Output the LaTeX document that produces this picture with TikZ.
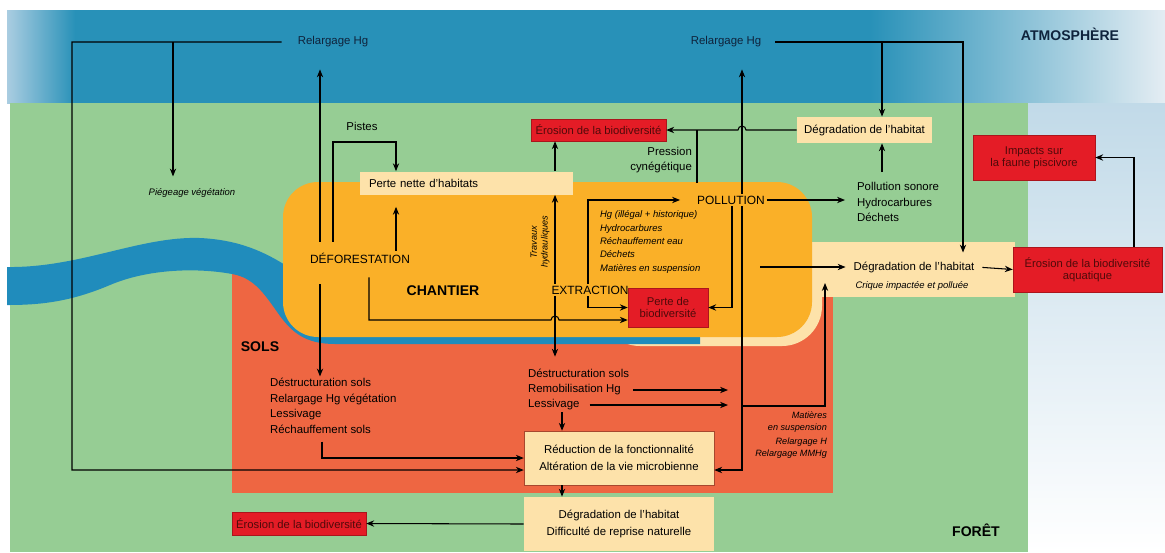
\documentclass[tikz,border=0pt]{standalone}
\usepackage{fontspec}
\setmainfont{Liberation Sans}
\usetikzlibrary{positioning,calc,arrows.meta}
\definecolor{atmoblue}{RGB}{40,145,184}
\definecolor{atmolight}{RGB}{170,205,225}
\definecolor{skylight}{RGB}{228,237,243}
\definecolor{foretgreen}{RGB}{150,205,148}
\definecolor{soilred}{RGB}{238,102,66}
\definecolor{siteorange}{RGB}{250,176,40}
\definecolor{creekcream}{RGB}{253,226,170}
\definecolor{riverblue}{RGB}{32,140,188}
\definecolor{alertred}{RGB}{228,28,38}
\definecolor{alerttext}{RGB}{80,10,10}
\definecolor{navytext}{RGB}{15,35,60}

\begin{document}
\begin{tikzpicture}[x=0.02cm, y=-0.02cm,
    txt/.style={font=\fontsize{6.5}{8.8}\selectfont, inner sep=1pt},
    itxt/.style={font=\fontsize{5.4}{7.6}\selectfont\itshape, inner sep=1pt},
    act/.style={font=\fontsize{6.8}{8}\selectfont, inner sep=1pt},
    head/.style={font=\fontsize{8}{9}\selectfont\bfseries, inner sep=1pt},
    redbox/.style={rectangle, fill=alertred, draw=alertred!75!black, line width=0.3pt, text=alerttext, font=\fontsize{6.4}{6.8}\selectfont, align=center, inner sep=0pt},
    creambox/.style={rectangle, fill=creekcream, font=\fontsize{6.5}{9.4}\selectfont, align=center, inner sep=0pt},
    arr/.style={-{Stealth[length=4.5pt,width=3.6pt]}, line width=0.6pt},
    ln/.style={line width=0.6pt}
]
\useasboundingbox (0,0) rectangle (1165,552);

% Zones
\fill[white] (0,0) rectangle (1165,552);
\fill[atmoblue] (7,10) rectangle (1165,103);
\shade[left color=atmolight, right color=atmoblue] (7,10) rectangle (75,103);
\shade[left color=atmoblue, right color=skylight] (870,10) rectangle (1165,103);
\shade[top color=atmolight!60!skylight, bottom color=white] (1028,103) rectangle (1165,552);
\fill[foretgreen] (10,103) rectangle (1028,552);
\fill[soilred] (232,274) rectangle (833,493);

% Crique
\fill[creekcream, rounded corners=0.8cm] (600,242) rectangle (822,346);
\fill[creekcream] (790,242) rectangle (1015,297);

% Riviere
\fill[riverblue] (7,267) .. controls (80,268) and (140,236) .. (200,238)
    .. controls (240,240) and (265,252) .. (290,268)
    -- (700,300) -- (700,344) -- (335,344)
    .. controls (305,344) and (292,332) .. (280,316)
    .. controls (265,295) and (255,278) .. (232,274)
    .. controls (200,268) and (150,268) .. (110,285)
    .. controls (70,302) and (40,305) .. (7,305) -- cycle;

% Chantier
\fill[siteorange, rounded corners=0.7cm] (283,182) rectangle (812,337);

% Atmosphere
\node[txt, text=navytext] (relL) at (333,42) {Relargage Hg};
\node[txt, text=navytext] (relR) at (726,42) {Relargage Hg};
\node[head, text=navytext] (atmo) at (1070,34) {ATMOSPHÈRE};

% Foret
\node[itxt] (piege) at (192,193) {Piégeage végétation};
\node[txt] (pistes) at (362,126) {Pistes};
\node[creambox, minimum width=4.26cm, minimum height=0.46cm, text width=3.9cm, align=left, inner xsep=0.18cm] (pnette) at (466.5,183) {Perte nette d'habitats};
\node[redbox, minimum width=2.7cm, minimum height=0.44cm] (erosT) at (598.5,130) {Érosion de la biodiversité};
\node[txt, align=right, anchor=east, font=\fontsize{6.5}{8.3}\selectfont] (pression) at (694,160) {Pression\\cynégétique};
\node[creambox, minimum width=2.7cm, minimum height=0.52cm] (degT) at (864.5,130) {Dégradation de l'habitat};
\node[txt, align=left, anchor=west, inner ysep=0.2cm] (pson) at (855,202) {Pollution sonore\\Hydrocarbures\\Déchets};
\node[redbox, minimum width=2.44cm, minimum height=0.9cm] (impacts) at (1034,157.5) {Impacts sur\\la faune piscivore};
\node[head] (foret) at (976,530) {FORÊT};

% Chantier
\node[act] (defo) at (360,258) {DÉFORESTATION};
\node[head] (chantier) at (443,291) {CHANTIER};
\node[itxt, rotate=90, align=center, font=\fontsize{5.2}{6.2}\selectfont\itshape] (travaux) at (540,242) {Travaux\\hydrauliques};
\node[act] (extr) at (590,290) {EXTRACTION};
\node[act] (poll) at (731,200) {POLLUTION};
\node[itxt, align=left, anchor=west] (pollist) at (598,242) {Hg (illégal + historique)\\Hydrocarbures\\Réchauffement eau\\Déchets\\Matières en suspension};
\node[redbox, minimum width=1.6cm, minimum height=0.78cm] (perteb) at (668,307.5) {Perte de\\biodiversité};

% Crique
\node[txt] (degC) at (914,267) {Dégradation de l'habitat};
\node[itxt] (crique) at (912,286) {Crique impactée et polluée};
\node[redbox, minimum width=2.98cm, minimum height=0.9cm] (erosA) at (1087.5,269.5) {Érosion de la biodiversité\\aquatique};

% Sols
\node[head] (sols) at (260,347) {SOLS};
\node[txt, align=left, anchor=west] (solsL) at (268,406) {Déstructuration sols\\Relargage Hg végétation\\Lessivage\\Réchauffement sols};
\node[txt, anchor=west] (dsC) at (526,373) {Déstructuration sols};
\node[txt, anchor=west] (remob) at (526,390) {Remobilisation Hg};
\node[txt, anchor=west] (lessC) at (526,405) {Lessivage};
\node[itxt, align=right, anchor=east, font=\fontsize{5.2}{6.8}\selectfont\itshape] (matieres) at (829,435) {Matières\\en suspension\\[1.5pt]Relargage H\\Relargage MMHg};
\node[creambox, draw=soilred!70!black, line width=0.3pt, minimum width=3.8cm, minimum height=1.08cm] (reduc) at (619,458) {Réduction de la fonctionnalité\\Altération de la vie microbienne};
\node[creambox, minimum width=3.8cm, minimum height=1.08cm] (degB) at (619,524) {Dégradation de l'habitat\\Difficulté de reprise naturelle};
\node[redbox, minimum width=2.68cm, minimum height=0.46cm] (erosB) at (299,523.5) {Érosion de la biodiversité};

% Points
\coordinate (loopL) at (72,470);
\coordinate (brL) at (173,42);
\coordinate (brR) at (882,42);
\coordinate (pistK) at (396,142);
\coordinate (hopA) at (555,320);
\coordinate (hopB) at (742,130);
\coordinate (orTop) at (697,183);
\coordinate (chOut) at (760,267);
\coordinate (brM) at (742,406);
\coordinate (tipM) at (825,283);
\coordinate (xA) at (320,0);
\coordinate (xB) at (333,0);
\coordinate (xC) at (396,0);
\coordinate (xD) at (369,0);
\coordinate (xE) at (555,0);
\coordinate (xF) at (588,0);
\coordinate (xG) at (732,0);
\coordinate (xH) at (742,0);
\coordinate (xJ) at (882,0);
\coordinate (xK) at (963,0);
\coordinate (xM) at (1134,0);
\coordinate (xN) at (562,0);
\coordinate (xO) at (322,0);
\coordinate (tipR) at (728,0);

% Relargage gauche
\draw[arr, shorten <=0.28cm] (relL.west) -| (loopL) -- ([yshift=-0.24cm]reduc.west);
\draw[arr, shorten >=0.2cm] (brL) -- (brL |- piege.north);

% Deforestation
\draw[arr, shorten <=0.18cm, shorten >=0.4cm] (defo.north -| xA) -- (relL.south -| xA);
\draw[arr, shorten <=0.38cm] (defo.south -| xA) -- (solsL.north -| xA);
\draw[arr, shorten <=0.18cm] (defo.north -| xB) |- (pistK) -- (pistK |- pnette.north);
\draw[arr, shorten >=0.24cm] (defo.north -| xC) -- (pnette.south -| xC);
\draw[arr, shorten <=0.24cm] (defo.south -| xD) |- ([xshift=-0.08cm]hopA) arc[start angle=180, end angle=0, radius=0.08cm] -- (hopA -| perteb.west);

% Extraction
\draw[arr] (extr.north -| xE) -- (pnette.south -| xE);
\draw[arr] (pnette.north -| xE) -- (erosT.south -| xE);
\draw[arr, shorten >=0.2cm] (extr.south -| xE) -- (dsC.north -| xE);
\draw[arr, shorten >=0.3cm] (extr.north -| xF) |- (poll.west);
\draw[arr] (extr.south -| xF) |- (perteb.west);

% Pollution
\draw[arr] (poll.south -| xG) |- (perteb.east);
\draw[arr, shorten >=0.4cm] (poll.north -| xH) -- (relR.south -| xH);
\draw[arr] (poll.south -| xH) |- ([yshift=-0.24cm]reduc.east);
\draw[arr, shorten >=0.2cm] (poll.east) -- (poll.east -| pson.west);
\draw[arr] (brM) -| (tipM);
\draw[ln] (orTop) -- (orTop |- degT.west);

% Crique
\draw[arr, shorten >=0.12cm] (chOut) -- (degC.west);
\draw[arr, shorten <=0.12cm] (degC.east) -- (erosA.west);
\draw[arr] (erosA.north -| xM) |- (impacts.east);

% Relargage droite
\draw[arr, shorten <=0.24cm, shorten >=0.14cm] (relR.east) -| (degC.north -| xK);
\draw[arr] (brR) -- (degT.north -| xJ);
\draw[arr] (pson.north -| xJ) -- (degT.south -| xJ);
\draw[arr] (degT.west) -- ([xshift=0.08cm]hopB) arc[start angle=0, end angle=180, radius=0.08cm] -- (erosT.east);

% Sols
\draw[arr, shorten <=0.2cm] (remob.east) -- (remob.east -| tipR);
\draw[arr, shorten <=0.16cm] (lessC.east) -- (lessC.east -| tipR);
\draw[arr] (lessC.south -| xN) -- (reduc.north -| xN);
\draw[arr, shorten <=0.12cm] (solsL.south -| xO) |- (reduc.west);
\draw[arr] (reduc.south -| xN) -- (degB.north -| xN);
\draw[arr] (degB.west) -- (erosB.east);

\end{tikzpicture}
\end{document}
